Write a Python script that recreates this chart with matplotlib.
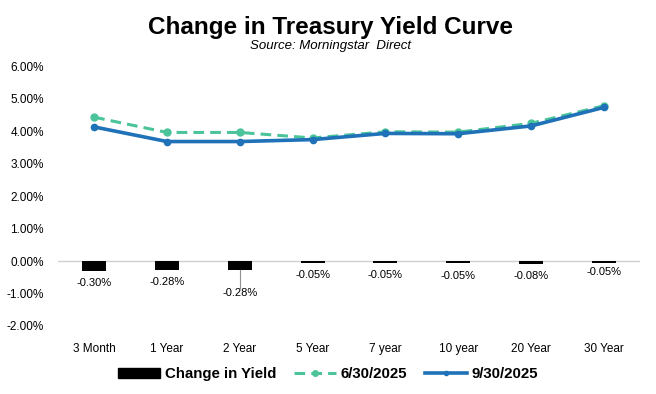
import matplotlib
matplotlib.use("Agg")
import matplotlib.pyplot as plt
from matplotlib.patches import Patch
from matplotlib.lines import Line2D
import numpy as np

plt.rcParams['font.family'] = ['Liberation Sans', 'DejaVu Sans']

categories = ["3 Month", "1 Year", "2 Year", "5 Year", "7 year", "10 year", "20 Year", "30 Year"]
june = [4.43, 3.96, 3.96, 3.79, 3.98, 3.97, 4.24, 4.78]
sept = [4.13, 3.68, 3.68, 3.74, 3.93, 3.92, 4.16, 4.73]
change = [-0.30, -0.28, -0.28, -0.05, -0.05, -0.05, -0.08, -0.05]

# where the bar labels sit (data units)
label_y = [-0.69, -0.65, -0.98, -0.43, -0.43, -0.46, -0.46, -0.34]

GREEN = "#4cc49a"
BLUE = "#1f72b8"

fig = plt.figure(figsize=(6.56, 3.94), dpi=100)
ax = fig.add_axes([0.088, 0.1726, 0.888, 0.6594])

x = np.arange(len(categories))
ax.bar(x, change, width=0.33, color="black", zorder=2)
ax.axhline(0, color="#d0d0d0", lw=1, zorder=1)
ax.plot(x, june, color=GREEN, lw=2.2, ls=(0, (3.5, 2)), marker="o", ms=5, zorder=3)
ax.plot(x, sept, color=BLUE, lw=2.6, marker="o", ms=4.5, zorder=4)

for i, v in enumerate(change):
    ax.text(x[i], label_y[i], "%.2f%%" % v, ha="center", va="center", fontsize=8)
# leader line for the 2 Year label
ax.plot([x[2], x[2]], [change[2], label_y[2] + 0.15], color="#909090", lw=0.8)

ax.set_xlim(-0.5, len(categories) - 0.5)
ax.set_ylim(-2, 6)
ax.set_yticks(np.arange(-2, 7, 1))
ax.set_yticklabels(["%.2f%%" % t for t in np.arange(-2, 7, 1)], fontsize=8.5)
ax.set_xticks(x)
ax.set_xticklabels(categories, fontsize=8.5)
ax.tick_params(length=0, pad=12)
ax.tick_params(axis="y", pad=10)
for s in ax.spines.values():
    s.set_visible(False)

fig.text(0.504, 0.93, "Change in Treasury Yield Curve", ha="center", va="center",
         fontsize=17.5, fontweight="bold")
fig.text(0.504, 0.882, "Source: Morningstar  Direct", ha="center", va="center",
         fontsize=9.5, style="italic")

handles = [Patch(color="black"),
           Line2D([], [], color=GREEN, lw=2.2, ls=(0, (3.5, 2)), marker="o", ms=4),
           Line2D([], [], color=BLUE, lw=2.6, marker="o", ms=3)]
fig.legend(handles, ["Change in Yield", "6/30/2025", "9/30/2025"], loc="center",
           bbox_to_anchor=(0.5, 0.05), ncol=3, frameon=False,
           prop={"weight": "bold", "size": 10.8}, handlelength=2.8, columnspacing=1.2,
           handletextpad=0.3)

fig.savefig("out.png", dpi=100)
